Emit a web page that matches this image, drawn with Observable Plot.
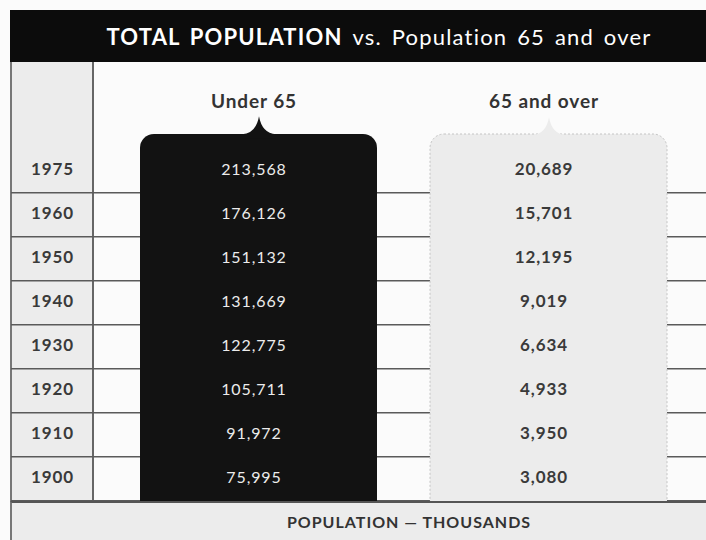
<!DOCTYPE html>
<html>
<head>
<meta charset="utf-8">
<script src="https://cdn.jsdelivr.net/npm/d3@7"></script>
<script src="https://cdn.jsdelivr.net/npm/@observablehq/plot@0.6"></script>
<style>
  html, body { margin: 0; padding: 0; background: #fbfbfb; }
  body { width: 706px; height: 540px; position: relative; overflow: hidden; font-family: Lato, "Open Sans", sans-serif; }
  #head { position: absolute; left: 10px; top: 10px; right: 0; height: 52px; background: #0c0c0c;
          color: #fff; display: flex; align-items: center; justify-content: center; padding-left: 42px; box-sizing: border-box;
          font-size: 22px; letter-spacing: 1.2px; word-spacing: 3px; }
  #head b { font-weight: 700; }
  #head span { font-weight: 400; }
  #chart { position: absolute; left: 0; top: 62px; width: 706px; height: 440px;
           background: linear-gradient(to right, transparent 0 10px, #777 10px 12px, #ececec 12px 92px, #666 92px 94px, transparent 94px); }
  #chart svg text { letter-spacing: 0.9px; }
  #foot { position: absolute; left: 10px; top: 501px; right: 0; height: 39px; background: #ececec;
          border-top: 2px solid #555; border-left: 2px solid #777; box-sizing: border-box;
          display: flex; align-items: center; justify-content: center; padding-left: 100px;
          font-size: 16px; font-weight: 700; color: #333; letter-spacing: 1px; }
</style>
</head>
<body>
<div id="head"><b>TOTAL POPULATION</b>&nbsp;<span>vs. Population 65 and over</span></div>
<div id="chart"></div>
<div id="foot">POPULATION — THOUSANDS</div>
<script>
// ---- data ----
const years = ["1975", "1960", "1950", "1940", "1930", "1920", "1910", "1900"];
const series = ["Under 65", "65 and over"];
const under65 = [213568, 176126, 151132, 131669, 122775, 105711, 91972, 75995];
const over65 = [20689, 15701, 12195, 9019, 6634, 4933, 3950, 3080];

// ---- layout ----
const W = 706, H = 440, MT = 85, MB = 0, ML = 93, MR = 0;
const band = (H - MT - MB) / years.length;
const FONT = "Lato, 'Open Sans', sans-serif";
const fmt = d3.format(",");

const values = [
  ...years.map((y, i) => ({year: y, series: series[0], value: under65[i]})),
  ...years.map((y, i) => ({year: y, series: series[1], value: over65[i]}))
];

// brace-tip shaped notch on top of each column
const notch = {
  draw(ctx) {
    ctx.moveTo(-17, 4);
    ctx.lineTo(-17, 0);
    ctx.quadraticCurveTo(-3, -1, 0, -18);
    ctx.quadraticCurveTo(3, -1, 17, 0);
    ctx.lineTo(17, 4);
    ctx.closePath();
  }
};

const colTop = -15;                       // column top above the first band
const colBottom = -(band * (years.length - 1) + 30);

const plot = Plot.plot({
  width: W, height: H,
  marginTop: MT, marginBottom: MB, marginLeft: ML, marginRight: MR,
  style: {background: "transparent", fontFamily: FONT},
  x: {type: "band", domain: series, paddingInner: 0.183, paddingOuter: 0.148, align: 0.547, axis: null},
  y: {type: "band", domain: years, padding: 0, axis: null},
  marks: [
    // row separators
    Plot.ruleY(years, {y: d => d, dy: band / 2 - 1, stroke: "#5a5a5a", strokeWidth: 1.6, insetLeft: -(ML - 11)}),
    // columns
    Plot.cell([series[0]], {x: d => d, y: () => years[0], fill: "#121212", rx: 14, insetTop: colTop, insetBottom: colBottom}),
    Plot.cell([series[1]], {x: d => d, y: () => years[0], fill: "#ececec", stroke: "#c4c4c4", strokeDasharray: "2,2", rx: 14, insetTop: colTop, insetBottom: colBottom}),
    Plot.dot([series[0]], {x: d => d, y: () => years[0], dy: -(band / 2 - colTop) , symbol: notch, fill: "#121212", r: 5}),
    Plot.dot([series[1]], {x: d => d, y: () => years[0], dy: -(band / 2 - colTop) + 1, symbol: notch, fill: "#ececec", r: 5}),
    // column headers
    Plot.text(series, {x: d => d, y: () => years[0], dy: -(band / 2 + 47), dx: -5, text: d => d,
      fontSize: 19, fontWeight: "bold", fill: "#333", fontFamily: FONT}),
    // values
    Plot.text(values.filter(d => d.series === series[0]), {x: "series", y: "year", dx: -5, dy: -2, text: d => fmt(d.value),
      fill: "#ececec", fontSize: 16, fontFamily: FONT}),
    Plot.text(values.filter(d => d.series === series[1]), {x: "series", y: "year", dx: -5, dy: -2, text: d => fmt(d.value),
      fill: "#3a3a3a", fontSize: 17, fontWeight: "bold", fontFamily: FONT}),
    // year labels
    Plot.text(years, {y: d => d, frameAnchor: "left", dx: -(ML - 52), dy: -2, text: d => d, textAnchor: "middle",
      fill: "#3a3a3a", fontSize: 17, fontWeight: "bold", fontFamily: FONT})
  ]
});
document.getElementById("chart").appendChild(plot);
</script>
</body>
</html>
